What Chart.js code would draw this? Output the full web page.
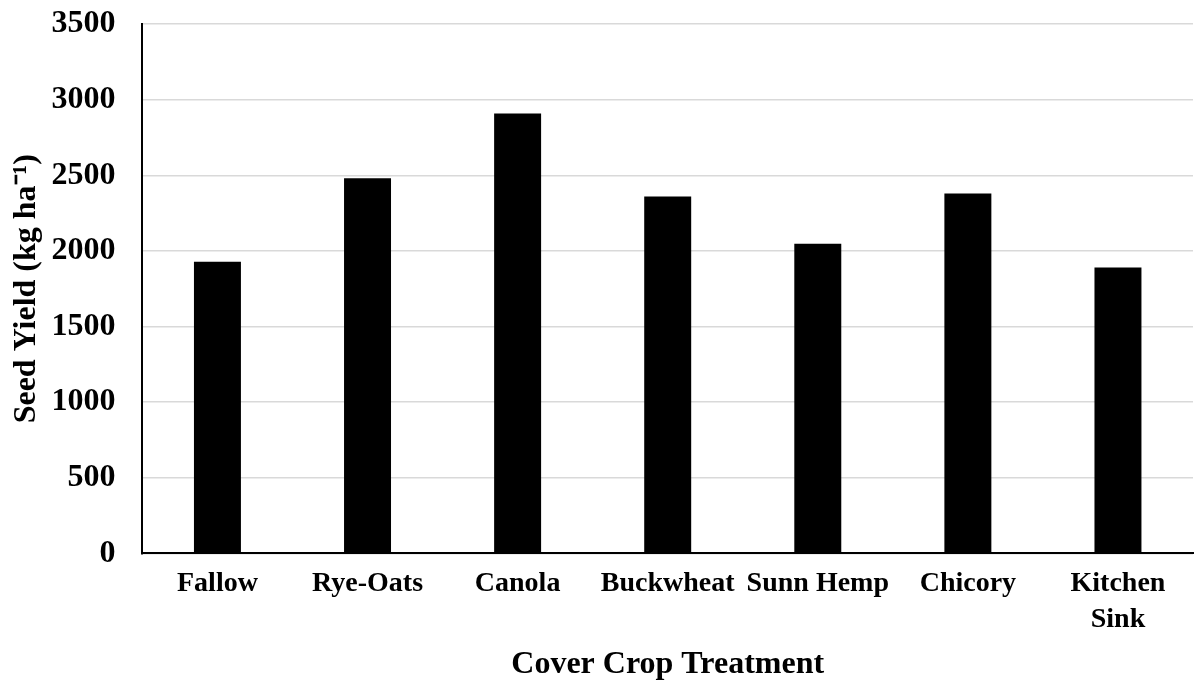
<!DOCTYPE html>
<html>
<head>
<meta charset="utf-8">
<style>
  body { margin: 0; background: #fff; }
  #wrap { width: 1201px; height: 680px; position: relative; }
</style>
</head>
<body>
<div id="wrap">
  <canvas id="seedYield"></canvas>
</div>

<script src="https://cdn.jsdelivr.net/npm/chart.js"></script>

<script>
    const treatments = ['Fallow', 'Rye-Oats', 'Canola', 'Buckwheat', 'Sunn Hemp', 'Chicory', ['Kitchen', 'Sink']];
    const seedYield = [1928, 2481, 2910, 2360, 2047, 2380, 1891];
    const yTicks = [0, 500, 1000, 1500, 2000, 2500, 3000, 3500];

    const serif = "'Liberation Serif', 'Times New Roman', serif";

    document.addEventListener('DOMContentLoaded', function () {
        const ctx = document.getElementById('seedYield').getContext('2d');
        new Chart(ctx, {
            type: 'bar',
            data: {
                labels: treatments,
                datasets: [{
                    label: 'Seed Yield',
                    data: seedYield,
                    backgroundColor: '#000000',
                    borderWidth: 0,
                    categoryPercentage: 1,
                    barPercentage: 0.313,
                }],
            },
            options: {
                responsive: true,
                maintainAspectRatio: false,
                animation: false,
                layout: {
                    padding: { top: 3, right: 8, left: 8, bottom: 1 },
                },
                plugins: {
                    legend: { display: false },
                    tooltip: { enabled: false },
                },
                scales: {
                    y: {
                        min: 0,
                        max: 3500,
                        afterBuildTicks: axis => {
                            axis.ticks = yTicks.map(v => ({ value: v }));
                        },
                        ticks: {
                            color: '#000',
                            padding: 5,
                            callback: v => String(v),
                            font: { family: serif, size: 32, weight: 'bold' },
                        },
                        grid: {
                            color: '#d9d9d9',
                            lineWidth: 1.5,
                            drawTicks: true,
                            tickLength: 22,
                            tickColor: 'rgba(0,0,0,0)',
                        },
                        border: { color: '#000', width: 2 },
                        title: {
                            display: true,
                            text: 'Seed Yield (kg ha\u207B\u00B9)',
                            color: '#000',
                            font: { family: serif, size: 32, weight: 'bold' },
                            padding: { top: 0, bottom: 0 },
                        },
                    },
                    x: {
                        grid: { display: false, drawTicks: false },
                        border: { color: '#000', width: 2 },
                        ticks: {
                            color: '#000',
                            padding: 13,
                            maxRotation: 0,
                            autoSkip: false,
                            font: { family: serif, size: 28, weight: 'bold', lineHeight: 1.28 },
                        },
                        title: {
                            display: true,
                            text: 'Cover Crop Treatment',
                            color: '#000',
                            font: { family: serif, size: 32, weight: 'bold', lineHeight: 0.875 },
                            padding: { top: 0, bottom: 0 },
                        },
                    },
                },
            },
        });
    });
</script>
</body>
</html>
